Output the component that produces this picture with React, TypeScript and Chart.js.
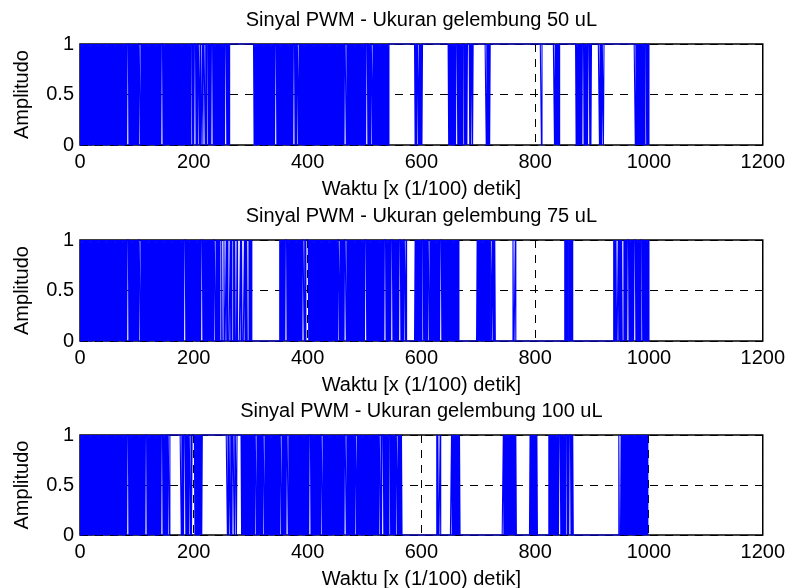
import { useEffect, useRef } from "react";
import { Chart, registerables } from "chart.js";

Chart.register(...registerables);

// ---------- data ----------
const titles = [
  "Sinyal PWM - Ukuran gelembung 50 uL",
  "Sinyal PWM - Ukuran gelembung 75 uL",
  "Sinyal PWM - Ukuran gelembung 100 uL",
];
const xLabel = "Waktu [x (1/100) detik]";
const yLabel = "Amplitudo";
const xTicks = [0, 200, 400, 600, 800, 1000, 1200];
const yTicks = [0, 0.5, 1];

// one character per sample (x = 0, 1, 2, ...)
const pwm50 = `
0101010101 0101010101 0101010101 0101010101 0101010101
0101010101 0101010101 0101010101 0101110101 0101010101
0101110101 0101010101 0101010101 0101010101 0101110101
0101010101 0101010101 0101010101 0101010101 0101011101
0111010111 0100010111 0101110101 0111010101 0101010101
0101011101 0101111111 1111111111 1111111111 1111111111
1111110101 0101010101 0101010101 0101010101 0101110101
0101010101 0101010101 0101011101 0111010101 0101010101
0101010101 0101010101 0101010101 0101010101 0101010101
0101010101 0101011101 0101010101 0101010101 0101010101
0101110101 0111010101 0101010101 0101010101 0101111111
1111111111 1111111111 1111111111 1111111110 1011101010
1011111111 1111111111 1111111111 1111111111 1111111101
0101010101 0111010101 0101110101 0111101011 0111111111
1111111111 1111010101 0111111111 1111111111 1111111111
1111111111 1111111111 1111111111 1111111111 1111111111
1111111111 1011111111 1111111111 1111010101 0101111111
1111111111 1111111111 1101010101 0101110101 0101110101
1111111111 1110101011 0111111111 1111111111 1111111111
1111111111 1111111111 1111110101 0101010101 0101110101
0`;

const pwm75 = `
0101010101 0101010101 0101010101 0101010101 0101010101
0101010101 0101010101 0101010101 0101110101 0101010101
0101110101 0101010101 0101010101 0101010101 0101010101
0101010101 0101010101 0101010101 0101110101 0101010101
0101010101 0101110101 0101010101 0101011101 0101010001
0001000101 0000101000 1010001000 0010100001 0101000101
0100000000 0000000000 0000000000 0000000000 0000000000
0101010101 0111010101 0101010101 0101010101 0111010111
1101010101 0101010101 0101010101 0101010101 0101010101
0101110101 0101011101 0101010101 0101010101 0101010101
0111010101 0101010101 0101010101 0101011101 0101010111
0101010101 0111010101 1101000000 0000000001 0101010101
0111010101 0111010101 0101010101 0101110101 0101010101
0101010101 0101010000 0000000000 0000000000 0000000010
1010101010 1010101001 0010010101 0000000000 0000000000
0000000000 0100010000 0000000000 0000000000 0000000000
0000000000 0000000000 0000000000 0000000000 0000000000
0010101001 0101010000 0000000000 0000000000 0000000000
0000000000 0000000000 0000000000 0000000010 1010001010
1010001010 1011101010 1010111010 1010101110 1010101010
1`;

const pwm100 = `
0101010101 0101010101 0101010101 0101010101 0101010101
0101010101 0101010101 0101010101 0101110101 0101010101
0101010101 0101011101 0101010101 0101010101 0101110101
0110111011 1111111111 1111111101 0101110101 0111010111
1101010101 0101011111 1111111111 1111111111 1111111111
1111111110 1011011011 1011101111 1111010101 0101010101
0101010111 0101010101 0111010101 0101010101 0101010101
0111010101 0101110101 0101010101 0101010101 0101010101
0101110101 0101010101 0101110101 0101010101 0101010101
0101010101 0101011101 0101010101 0101110101 0101010101
0101010101 0101010101 0101011101 0111010101 0101110101
0101011101 0101010000 0000000000 0000000000 0000000000
0000000000 0000000000 0000000101 0001000000 0000000000
0001010101 0101010100 0000000000 0000000000 0000000000
0000000000 0000000000 0000000000 0000000000 0000101010
1010101010 1010101000 0000000000 0000000000 0101010101
0101000000 0000000000 0000101010 1010101010 1011101010
1010111010 1110101000 0000000000 0000000000 0000000000
0000000000 0000000000 0000000000 0000000000 0000000100
0101010101 0101010101 0101010101 0101010101 0101010100
0`;

const series = [pwm50, pwm75, pwm100];

// ---------- layout (pixels) ----------
const W = 790;
const CH = 620;
const areas = [
  { top: 44, bottom: 145 },
  { top: 240, bottom: 341 },
  { top: 435, bottom: 535 },
];

const toValues = (s: string) => s.replace(/\s+/g, "").split("").map(Number);

const boxPlugin = {
  id: "axesBox",
  beforeDatasetsDraw(chart: any) {
    const { ctx, chartArea: a } = chart;
    ctx.save();
    ctx.setLineDash([]);
    ctx.strokeStyle = "#000";
    ctx.lineWidth = 1.5;
    ctx.strokeRect(a.left, a.top, a.right - a.left, a.bottom - a.top);
    ctx.restore();
  },
};

function PwmChart({ idx }: { idx: number }) {
  const ref = useRef<HTMLCanvasElement>(null);
  useEffect(() => {
    const canvas = ref.current!;
    const vals = toValues(series[idx]);
    const area = areas[idx];
    const font = { family: "'Liberation Sans', Arial, sans-serif", size: 20, weight: "normal" as const };
    const chart = new Chart(canvas, {
      type: "line",
      data: {
        datasets: [
          {
            data: vals.map((v, i) => ({ x: i, y: v })),
            borderColor: "#0000ff",
            borderWidth: 1.1,
            pointRadius: 0,
            tension: 0,
            fill: false,
            clip: false as any,
          },
        ],
      },
      options: {
        responsive: false,
        animation: false,
        events: [],
        layout: {
          padding: { left: 0, right: 25, top: area.top - 44, bottom: CH - area.bottom - 60 },
        },
        plugins: {
          legend: { display: false },
          tooltip: { enabled: false },
          title: {
            display: true,
            text: titles[idx],
            fullSize: false,
            color: "#000",
            font,
            padding: { top: 8, bottom: 12 },
          },
        },
        scales: {
          x: {
            type: "linear",
            min: 0,
            max: 1200,
            afterBuildTicks: (s: any) => {
              s.ticks = xTicks.map((v) => ({ value: v }));
            },
            afterFit: (s: any) => {
              s.height = 60;
            },
            ticks: {
              color: "#000",
              font,
              padding: 5,
              autoSkip: false,
              maxRotation: 0,
              callback: (v: any) => String(v),
            },
            grid: { color: "#000", lineWidth: 1, drawTicks: false },
            border: { display: false, dash: [8, 7] },
            title: {
              display: true,
              text: xLabel,
              color: "#000",
              font,
              padding: { top: 0, bottom: 4 },
            },
          },
          y: {
            type: "linear",
            min: 0,
            max: 1,
            afterBuildTicks: (s: any) => {
              s.ticks = yTicks.map((v) => ({ value: v }));
            },
            afterFit: (s: any) => {
              s.width = 80;
            },
            ticks: {
              color: "#000",
              font,
              padding: 6,
              callback: (v: any) => String(v),
            },
            grid: { color: "#000", lineWidth: 1, drawTicks: false },
            border: { display: false, dash: [8, 7] },
            title: {
              display: true,
              text: yLabel,
              color: "#000",
              font,
              padding: { top: 10, bottom: 0 },
            },
          },
        },
      },
      plugins: [boxPlugin],
    });
    return () => chart.destroy();
  }, [idx]);
  return (
    <canvas
      ref={ref}
      width={W}
      height={CH}
      style={{ position: "absolute", left: 0, top: 0, width: W, height: CH }}
    />
  );
}

export default function App() {
  return (
    <div
      style={{
        position: "absolute",
        left: 0,
        top: 0,
        width: W,
        height: 588,
        overflow: "hidden",
        background: "#fff",
      }}
    >
      <PwmChart idx={0} />
      <PwmChart idx={1} />
      <PwmChart idx={2} />
    </div>
  );
}
